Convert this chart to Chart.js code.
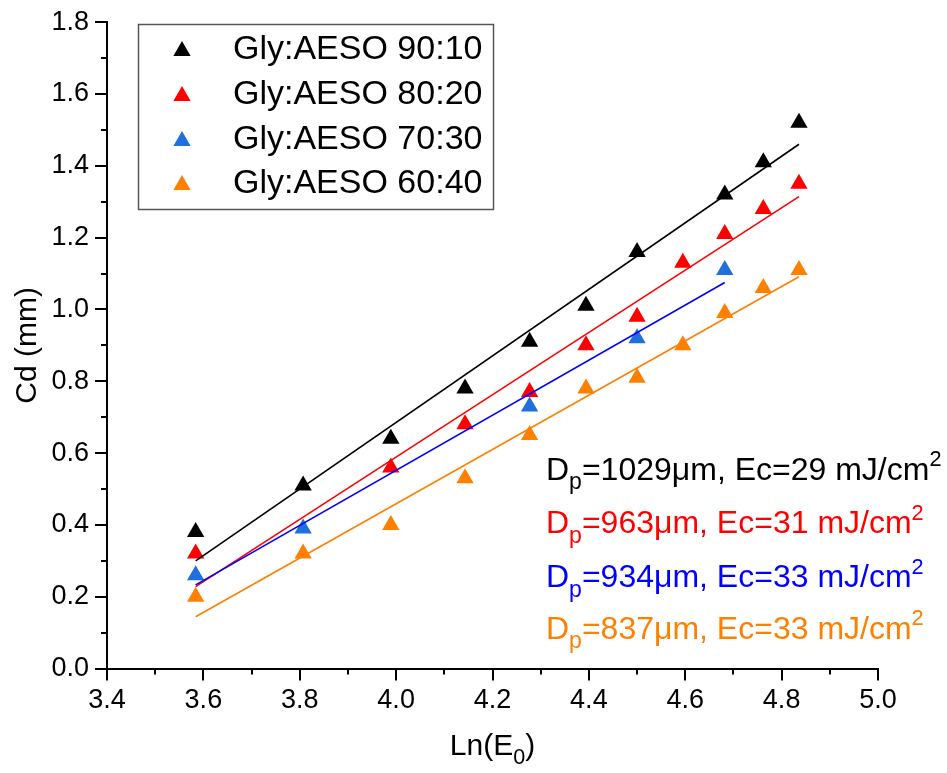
<!DOCTYPE html>
<html><head><meta charset="utf-8">
<script src="https://cdn.jsdelivr.net/npm/chart.js@4.4.1/dist/chart.umd.min.js"></script>
<style>html,body{margin:0;padding:0;background:#fff}#wrap{width:947px;height:773px;position:relative}</style>
</head><body><div id="wrap"><canvas id="c" width="947" height="773"></canvas></div>
<script>
// ---- data ----
const lnE0 = [3.584, 3.807, 3.989, 4.143, 4.277, 4.394, 4.500, 4.595, 4.682, 4.762, 4.836];
const seriesNames = ['Gly:AESO 90:10', 'Gly:AESO 80:20', 'Gly:AESO 70:30', 'Gly:AESO 60:40'];
const cd9010 = [0.38, 0.51, 0.64, 0.78, 0.91, 1.01, 1.16, null, 1.32, 1.41, 1.52];
const cd8020 = [0.32, null, 0.56, 0.68, 0.77, 0.90, 0.98, 1.13, 1.21, 1.28, 1.35];
const cd7030 = [0.26, 0.39, null, null, 0.73, null, 0.92, null, 1.11, null, null];
const cd6040 = [0.20, 0.32, 0.40, 0.53, 0.65, 0.78, 0.81, 0.90, 0.99, 1.06, 1.11];
// linear fit lines (end points)
const fitX9010 = [3.584, 4.836], fitY9010 = [0.30, 1.46];
const fitX8020 = [3.584, 4.836], fitY8020 = [0.228, 1.314];
const fitX7030 = [3.584, 4.682], fitY7030 = [0.233, 1.075];
const fitX6040 = [3.584, 4.836], fitY6040 = [0.144, 1.091];
const xTicks = [3.4, 3.6, 3.8, 4.0, 4.2, 4.4, 4.6, 4.8, 5.0];
const yTicks = [0.0, 0.2, 0.4, 0.6, 0.8, 1.0, 1.2, 1.4, 1.6, 1.8];
const dpValues = ['1029', '963', '934', '837'];
const ecValues = ['29', '31', '33', '33'];

const markerColors = ['#000000', '#ff0000', '#1f6fdc', '#ff8000'];
const lineColors = ['#000000', '#ff0000', '#0000ff', '#ff8000'];
const textColors = ['#000000', '#ff0000', '#0000ff', '#ff8000'];
const FONT = '"Liberation Sans", Arial, sans-serif';
const MR = 10;

function pts(xs, ys) { const o = []; xs.forEach((x, i) => { if (ys[i] !== null) o.push({x: x, y: ys[i]}); }); return o; }

const seriesY = [cd9010, cd8020, cd7030, cd6040];
const fitXs = [fitX9010, fitX8020, fitX7030, fitX6040];
const fitYs = [fitY9010, fitY8020, fitY7030, fitY6040];

const datasets = [];
for (let i = 0; i < 4; i++) {
  datasets.push({
    label: seriesNames[i], data: pts(lnE0, seriesY[i]), showLine: false,
    pointStyle: 'triangle', pointRadius: MR, pointHoverRadius: MR,
    backgroundColor: markerColors[i], borderColor: markerColors[i], borderWidth: 0,
    order: 10 - i, isSeries: true
  });
}
for (let i = 0; i < 4; i++) {
  datasets.push({
    label: 'fit ' + seriesNames[i], data: pts(fitXs[i], fitYs[i]), showLine: true,
    pointRadius: 0, borderColor: lineColors[i], borderWidth: 1.6, fill: false,
    order: 5 - i, isSeries: false
  });
}

function drawRich(ctx, x, y, parts, size, color) {
  let cx = x;
  ctx.fillStyle = color; ctx.textBaseline = 'alphabetic'; ctx.textAlign = 'left';
  for (const p of parts) {
    let s = size, dy = 0;
    if (p.t === 'sub') { s = size * 0.72; dy = size * 0.3; }
    if (p.t === 'sup') { s = size * 0.68; dy = -size * 0.42; }
    ctx.font = s + 'px ' + FONT;
    ctx.fillText(p.s, cx, y + dy);
    cx += ctx.measureText(p.s).width;
  }
}

function tri(ctx, x, y, r) {
  let a = 0;
  ctx.beginPath();
  ctx.moveTo(x + Math.sin(a) * r, y - Math.cos(a) * r);
  a += 2 * Math.PI / 3; ctx.lineTo(x + Math.sin(a) * r, y - Math.cos(a) * r);
  a += 2 * Math.PI / 3; ctx.lineTo(x + Math.sin(a) * r, y - Math.cos(a) * r);
  ctx.closePath(); ctx.fill();
}

const decor = {
  id: 'decor',
  afterDraw(chart) {
    const ctx = chart.ctx, xs = chart.scales.x, ys = chart.scales.y;
    ctx.save();
    // minor ticks
    ctx.strokeStyle = '#000'; ctx.lineWidth = 2;
    for (let i = 0; i < xTicks.length - 1; i++) {
      const px = Math.round(xs.getPixelForValue((xTicks[i] + xTicks[i + 1]) / 2));
      ctx.beginPath(); ctx.moveTo(px, xs.top); ctx.lineTo(px, xs.top + 6); ctx.stroke();
    }
    for (let i = 0; i < yTicks.length - 1; i++) {
      const py = Math.round(ys.getPixelForValue((yTicks[i] + yTicks[i + 1]) / 2));
      ctx.beginPath(); ctx.moveTo(ys.right, py); ctx.lineTo(ys.right - 6, py); ctx.stroke();
    }
    // axis titles
    ctx.fillStyle = '#000';
    ctx.save();
    ctx.translate(28, (chart.chartArea.top + chart.chartArea.bottom) / 2);
    ctx.rotate(-Math.PI / 2);
    ctx.font = '30px ' + FONT; ctx.textAlign = 'center'; ctx.textBaseline = 'middle';
    ctx.fillText('Cd (mm)', 0, 0);
    ctx.restore();
    const cxm = (chart.chartArea.left + chart.chartArea.right) / 2;
    ctx.font = '30px ' + FONT;
    const wLn = ctx.measureText('Ln(E').width, wClose = ctx.measureText(')').width;
    ctx.font = (30 * 0.72) + 'px ' + FONT;
    const w0 = ctx.measureText('0').width;
    const tot = wLn + w0 + wClose;
    drawRich(ctx, cxm - tot / 2, 755, [{s: 'Ln(E'}, {s: '0', t: 'sub'}, {s: ')'}], 30, '#000');
    // annotations
    const baselines = [479.5, 533, 587, 638.5];
    for (let i = 0; i < 4; i++) {
      drawRich(ctx, 546, baselines[i], [
        {s: 'D'}, {s: 'p', t: 'sub'}, {s: '=' + dpValues[i] + '\u03bcm, Ec=' + ecValues[i] + ' mJ/cm'}, {s: '2', t: 'sup'}
      ], 32, textColors[i]);
    }
    // legend
    ctx.strokeStyle = '#555'; ctx.lineWidth = 1.5;
    ctx.strokeRect(138.5, 24.5, 355, 185);
    const rowY = [49, 94, 139, 183];
    chart.data.datasets.forEach((ds, i) => {
      if (!ds.isSeries) return;
      ctx.fillStyle = ds.backgroundColor;
      tri(ctx, 182, rowY[i] + 2, MR);
      ctx.fillStyle = '#000'; ctx.font = '34px ' + FONT; ctx.textAlign = 'left'; ctx.textBaseline = 'middle';
      ctx.fillText(ds.label, 233, rowY[i] + 1);
    });
    ctx.restore();
  }
};

new Chart(document.getElementById('c'), {
  type: 'scatter',
  data: {datasets: datasets},
  options: {
    responsive: false, animation: false, devicePixelRatio: 1,
    layout: {padding: {top: 22, right: 69, bottom: 0, left: 0}},
    plugins: {legend: {display: false}, tooltip: {enabled: false}},
    scales: {
      x: {
        type: 'linear', min: 3.4, max: 5.0,
        afterBuildTicks: s => { s.ticks = xTicks.map(v => ({value: v})); },
        afterFit: s => { s.height = 104.5; },
        ticks: {callback: v => v.toFixed(1), color: '#000', font: {family: FONT, size: 27}, padding: 4, maxRotation: 0, autoSkip: false},
        grid: {drawOnChartArea: false, color: '#000', lineWidth: 2, tickLength: 12},
        border: {color: '#000', width: 2}
      },
      y: {
        type: 'linear', min: 0, max: 1.8,
        afterBuildTicks: s => { s.ticks = yTicks.map(v => ({value: v})); },
        afterFit: s => { s.width = 107; },
        ticks: {callback: v => v.toFixed(1), color: '#000', font: {family: FONT, size: 27}, padding: 6, autoSkip: false},
        grid: {drawOnChartArea: false, color: '#000', lineWidth: 2, tickLength: 12},
        border: {color: '#000', width: 2}
      }
    }
  },
  plugins: [decor]
});
</script></body></html>
